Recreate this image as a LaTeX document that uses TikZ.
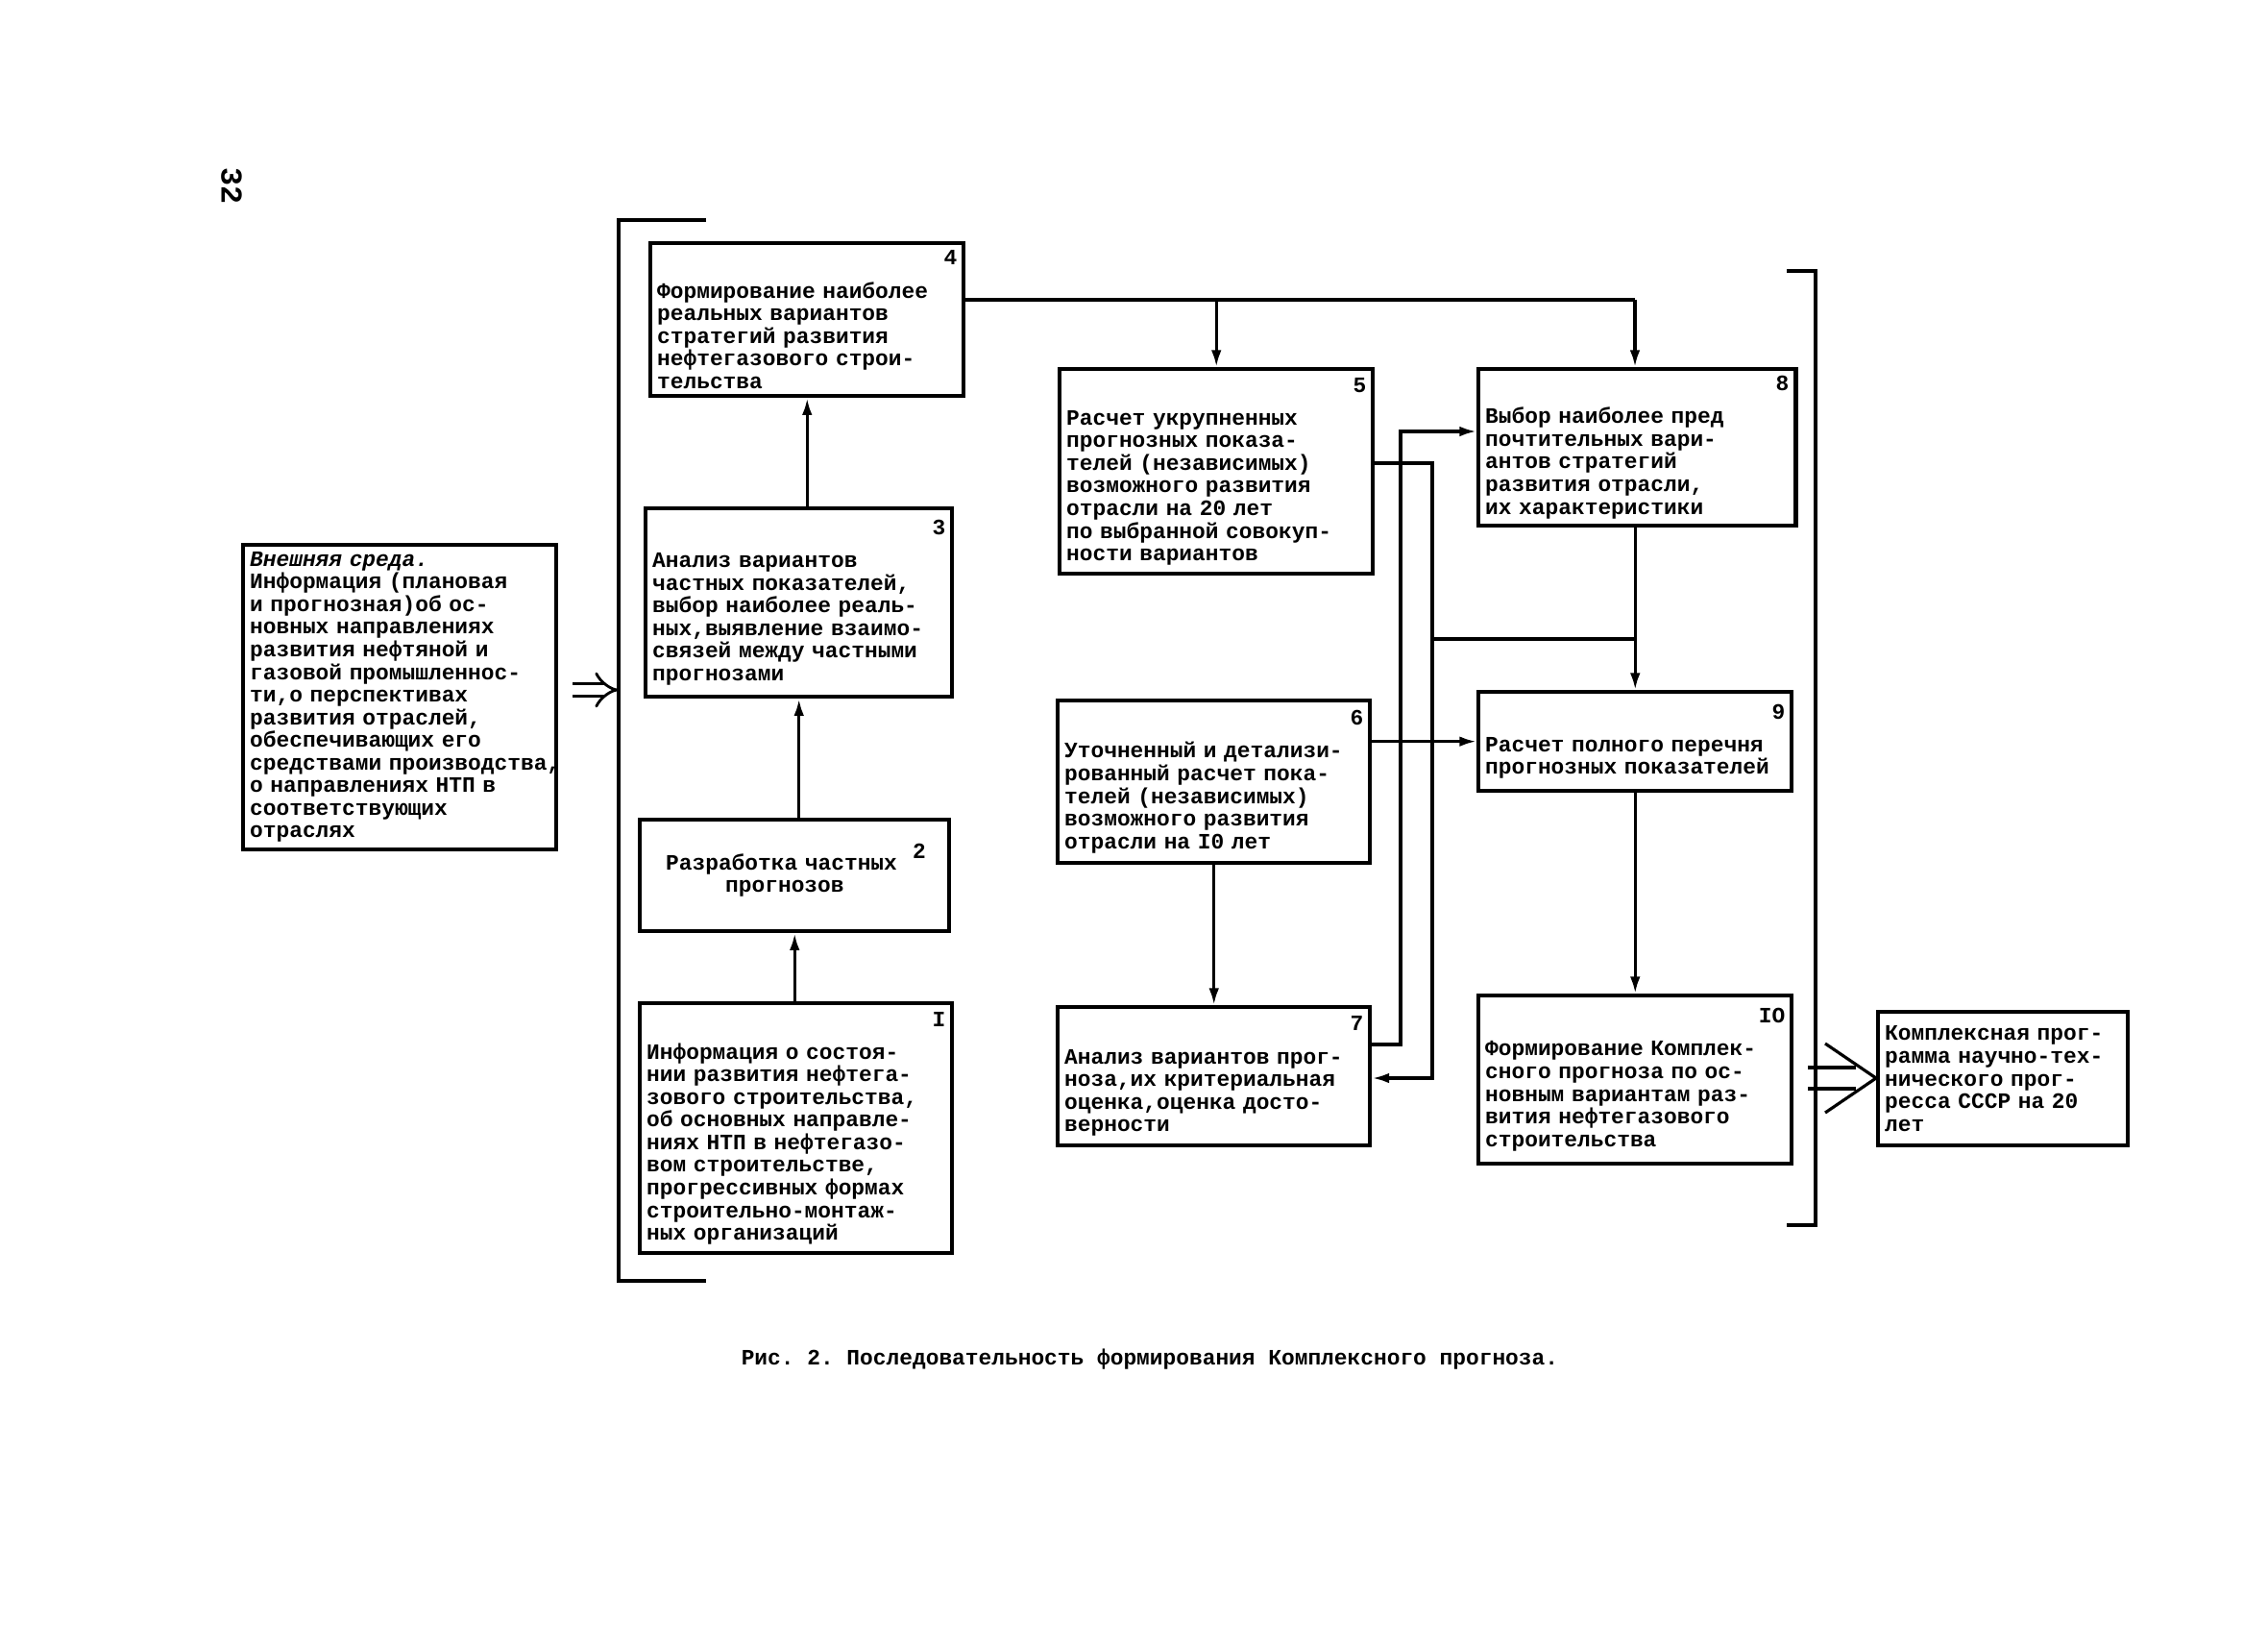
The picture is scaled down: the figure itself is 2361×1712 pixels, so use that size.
\documentclass[tikz,border=0pt]{standalone}
\usepackage{fontspec}
\setmonofont{Liberation Mono}
\usetikzlibrary{arrows.meta}
\newcommand{\txt}{\ttfamily\bfseries\fontsize{6.5}{6.7}\selectfont}
\newcommand{\nr}[2]{\hspace*{\fill}#1\hspace*{#2}\\[3pt]}
\tikzset{
  blk/.style={draw, line width=1.2pt, anchor=north west, align=left, inner sep=2pt, font=\txt},
  lnk/.style={line width=0.9pt},
  arr/.style={lnk, -{Latex[length=5pt,width=3pt]}},
  dbl/.style={line width=0.8pt, double, double distance=#1, -{Implies}},
  dbl/.default=0.1cm,
}
\begin{document}
\begin{tikzpicture}[x=0.01cm,y=-0.01cm]
\useasboundingbox[fill=white] (0,0) rectangle (2361,1712);
\node[font=\ttfamily\bfseries\fontsize{9}{9}\selectfont, rotate=-90] (pg) at (241,193) {32};
\node[blk, text width=3.12cm, minimum height=3.16cm] (ext) at (251,565) {{\itshape Внешняя среда.}\\Информация (плановая\\и прогнозная)об ос-\\новных направлениях\\развития нефтяной и\\газовой промышленнос-\\ти,о перспективах\\развития отраслей,\\обеспечивающих его\\\mbox{средствами производства,}\\о направлениях НТП в\\соответствующих\\отраслях};
\node[blk, text width=3.12cm, minimum height=1.59cm] (b4) at (675,251) {\nr{4}{0.34cm}Формирование наиболее\\реальных вариантов\\стратегий развития\\нефтегазового строи-\\тельства};
\node[blk, text width=3.05cm, minimum height=1.96cm] (b3) at (670,527) {\nr{3}{0.23cm}Анализ вариантов\\частных показателей,\\выбор наиболее реаль-\\ных,выявление взаимо-\\связей между частными\\прогнозами};
\node[blk, text width=3.08cm, minimum height=1.16cm] (b2) at (664,851) {\hspace*{0.2cm}Разработка частных\\\hspace*{0.82cm}прогнозов};
\node[font=\txt] (nr2) at (957,886) {2};
\node[blk, text width=3.11cm, minimum height=2.60cm] (b1) at (664,1042) {\nr{I}{0.24cm}Информация о состоя-\\нии развития нефтега-\\зового строительства,\\об основных направле-\\ниях НТП в нефтегазо-\\вом строительстве,\\прогрессивных формах\\строительно-монтаж-\\ных организаций};
\node[blk, text width=3.12cm, minimum height=2.13cm] (b5) at (1101,382) {\nr{5}{0.5cm}Расчет укрупненных\\прогнозных показа-\\телей (независимых)\\возможного развития\\отрасли на 20 лет\\по выбранной совокуп-\\ности вариантов};
\node[blk, text width=3.11cm, minimum height=1.69cm] (b6) at (1099,727) {\nr{6}{0.17cm}Уточненный и детализи-\\рованный расчет пока-\\телей (независимых)\\возможного развития\\отрасли на I0 лет};
\node[blk, text width=3.11cm, minimum height=1.44cm] (b7) at (1099,1046) {\nr{7}{0.1cm}Анализ вариантов прог-\\ноза,их критериальная\\оценка,оценка досто-\\верности};
\node[blk, text width=3.16cm, minimum height=1.63cm] (b8) at (1537,382) {\nr{8}{0.51cm}Выбор наиболее пред\\почтительных вари-\\антов стратегий\\развития отрасли,\\их характеристики};
\node[blk, text width=3.12cm, minimum height=1.03cm] (b9) at (1537,718) {\nr{9}{0cm}Расчет полного перечня\\прогнозных показателей};
\node[blk, text width=3.12cm, minimum height=1.75cm] (b10) at (1537,1034) {\nr{IO}{0.02cm}Формирование Комплек-\\сного прогноза по ос-\\новным вариантам раз-\\вития нефтегазового\\строительства};
\node[blk, text width=2.46cm, minimum height=1.39cm] (fin) at (1953,1051) {Комплексная прог-\\рамма научно-тех-\\нического прог-\\ресса СССР на 20\\лет};
\node[font=\txt] (cap) at (1197,1415) {Рис. 2. Последовательность формирования Комплексного прогноза.};
\draw[line width=1.2pt] (735,229) -- (644,229) -- (644,1333) -- (735,1333);
\draw[line width=1.2pt] (1860,282) -- (1890,282) -- (1890,1275) -- (1860,1275);
\coordinate (lb) at (644,718);
\coordinate (rb) at (1882,1122);
\coordinate (j4) at (1702,312);
\coordinate (k1) at (1491,482);
\coordinate (k2) at (1491,1122);
\coordinate (k3) at (1458,1087);
\coordinate (k4) at (1458,449);
\coordinate (k5) at (1491,665);
\draw[dbl=0.1cm, shorten <=0.15cm](ext.east |- lb) -- (lb);
\draw[lnk](rb) ++(0,-11) -- ++(50,0);
\draw[lnk](rb) ++(0,11) -- ++(50,0);
\draw[lnk](1900,1086) -- (fin.west |- rb) -- (1900,1158);
\draw[arr](b2.south |- b1.north) -- (b2.south);
\draw[arr](b3.south |- b2.north) -- (b3.south);
\draw[arr](b4.south |- b3.north) -- (b4.south);
\draw[lnk](b4.east |- j4) -- (j4);
\draw[arr](b5.north |- j4) -- (b5.north);
\draw[arr](j4) -- (j4 |- b8.north);
\draw[arr](b5.east |- k1) -- (k1) -- (k2) -- (b7.east |- k2);
\draw[arr](b7.east |- k3) -- (k3) -- (k4) -- (b8.west |- k4);
\draw[lnk](k5) -- (k5 -| b9.north);
\draw[arr](b6.east |- b9.west) -- (b9.west);
\draw[arr](b6.south) -- (b7.north);
\draw[arr](b9.north |- b8.south) -- (b9.north);
\draw[arr](b9.south) -- (b10.north);
\end{tikzpicture}
\end{document}
